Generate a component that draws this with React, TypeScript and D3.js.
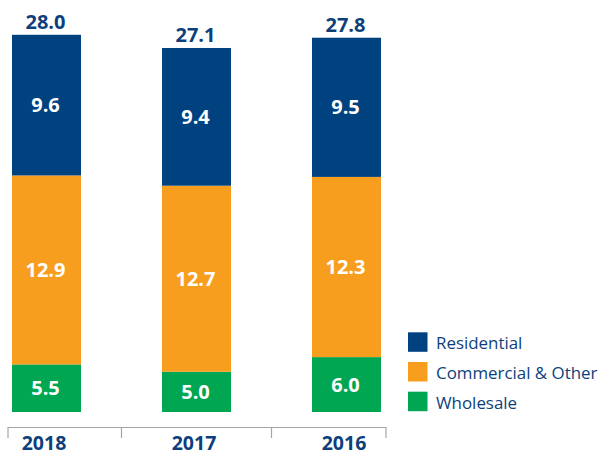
import React from "react";
import * as d3 from "d3";

const years = ["2018", "2017", "2016"];
const wholesale = [5.5, 5.0, 6.0];
const commercial = [12.9, 12.7, 12.3];
const residential = [9.6, 9.4, 9.5];
const totals = [28.0, 27.1, 27.8];
const seriesNames = ["Residential", "Commercial & Other", "Wholesale"];

const COLORS: Record<string, string> = {
  Residential: "#00417f",
  "Commercial & Other": "#f89e1f",
  Wholesale: "#00a651",
};
const TEXT = "#0d3f7c";
const FONT = "'Open Sans', sans-serif";

export default function App() {
  const W = 602;
  const H = 456;
  const x = d3.scaleBand<string>().domain(years).range([12, 381]).paddingInner(0.54).paddingOuter(0);
  const y = d3.scaleLinear().domain([0, 28]).range([445, 34.8]);
  const plotBottom = 412;
  const bw = x.bandwidth();

  const rows = years.map((yr, i) => ({
    year: yr,
    Wholesale: wholesale[i],
    "Commercial & Other": commercial[i],
    Residential: residential[i],
    total: totals[i],
  }));
  const stack = d3.stack<any>().keys(["Wholesale", "Commercial & Other", "Residential"]);
  const layers = stack(rows);

  const step = x.step();
  const tickXs = [
    (x(years[0]) as number) - 4,
    ...years.slice(1).map((yr) => (x(yr) as number) - (step - bw) / 2),
    (x(years[years.length - 1]) as number) + bw + 5,
  ];

  return (
    <svg width={W} height={H} style={{ position: "absolute", left: 0, top: 0, display: "block", background: "#fff" }}>
      <defs>
        <clipPath id="plotClip">
          <rect x={0} y={0} width={W} height={plotBottom} />
        </clipPath>
      </defs>
      <g clipPath="url(#plotClip)">
        {layers.map((layer) =>
          layer.map((d, i) => (
            <rect
              key={layer.key + i}
              x={x(years[i])}
              y={y(d[1])}
              width={bw}
              height={y(d[0]) - y(d[1])}
              fill={COLORS[layer.key]}
            />
          ))
        )}
      </g>
      {layers.map((layer) =>
        layer.map((d, i) => {
          const top = y(d[1]);
          const bot = Math.min(y(d[0]), plotBottom);
          const cy = (top + bot) / 2;
          return (
            <text
              key={"l" + layer.key + i}
              x={(x(years[i]) as number) + bw / 2 - 1}
              y={cy + 7}
              textAnchor="middle"
              fill="#fff"
              fontFamily={FONT}
              fontWeight={700}
              fontSize={20}
            >
              {(d[1] - d[0]).toFixed(1)}
            </text>
          );
        })
      )}
      {rows.map((r) => (
        <text
          key={"t" + r.year}
          x={(x(r.year) as number) + bw / 2 - 1}
          y={y(r.total) - 5.5}
          textAnchor="middle"
          fill={TEXT}
          fontFamily={FONT}
          fontWeight={700}
          fontSize={20}
        >
          {r.total.toFixed(1)}
        </text>
      ))}
      <line x1={tickXs[0]} x2={tickXs[tickXs.length - 1]} y1={427.5} y2={427.5} stroke="#a6a6a6" strokeWidth={1.2} />
      {tickXs.map((tx, i) => (
        <line key={"tk" + i} x1={tx} x2={tx} y1={427} y2={438} stroke="#a6a6a6" strokeWidth={1.2} />
      ))}
      {years.map((yr) => (
        <text
          key={"y" + yr}
          x={(x(yr) as number) + bw / 2 - 2.5}
          y={450}
          textAnchor="middle"
          fill={TEXT}
          fontFamily={FONT}
          fontWeight={700}
          fontSize={19.5}
        >
          {yr}
        </text>
      ))}
      {seriesNames.map((name, i) => (
        <g key={"lg" + name} transform={`translate(408, ${332.3 + i * 29.7})`}>
          <rect x={0} y={0} width={19.5} height={19.5} fill={COLORS[name]} />
          <text x={28} y={17} fill={TEXT} fontFamily={FONT} fontSize={16.9}>
            {name}
          </text>
        </g>
      ))}
    </svg>
  );
}
